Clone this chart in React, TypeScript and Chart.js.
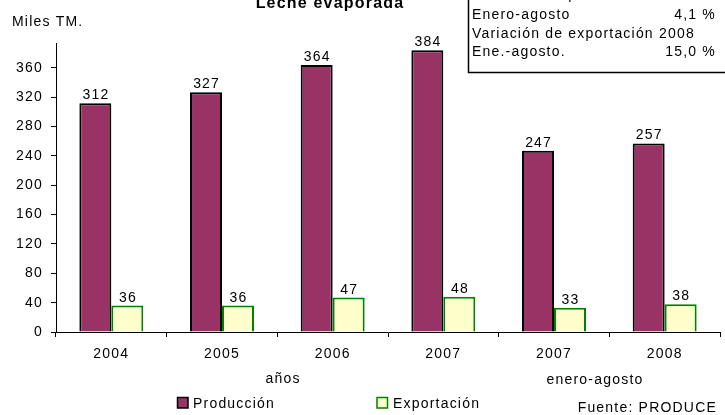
import React, { useEffect, useRef } from 'react';
import { Chart, registerables } from 'chart.js';

Chart.register(...registerables);

const categories = ['2004', '2005', '2006', '2007', '2007', '2008'];
const produccion = [312, 327, 364, 384, 247, 257];
const exportacion = [36, 36, 47, 48, 33, 38];
const yTickValues = [0, 40, 80, 120, 160, 200, 240, 280, 320, 360];
const yMax = 394;

const titleText = 'Leche evaporada';
const unitText = 'Miles TM.';
const xTitle = 'años';
const subTitle = 'enero-agosto';
const sourceText = 'Fuente: PRODUCE';
const boxLeft = ['Variación de producción 2008', 'Enero-agosto', 'Variación de exportación 2008', 'Ene.-agosto.'];
const boxRight = ['', '4,1 %', '', '15,0 %'];
const seriesNames = ['Producción', 'Exportación'];

const FONT = "'Liberation Sans', Arial, sans-serif";
const PURPLE = '#993366';
const CREAM = '#FFFFCC';
const GREEN = '#008000';

const overlay = {
  id: 'overlay',
  beforeDraw(chart: any) {
    chart.ctx.letterSpacing = '1.2px';
  },
  afterDraw(chart: any) {
    const ctx = chart.ctx as CanvasRenderingContext2D;
    ctx.save();
    (ctx as any).letterSpacing = '1.2px';
    ctx.fillStyle = '#000';
    ctx.textBaseline = 'alphabetic';

    // data labels
    ctx.font = `14px ${FONT}`;
    ctx.textAlign = 'center';
    chart.data.datasets.forEach((ds: any, i: number) => {
      const meta = chart.getDatasetMeta(i);
      meta.data.forEach((el: any, j: number) => {
        ctx.fillText(String(ds.data[j]), el.x + 0.6, el.y - 4);
      });
    });

    // title
    ctx.font = `bold 16px ${FONT}`;
    ctx.fillText(titleText, 330, 7.5);

    // unit
    ctx.font = `14px ${FONT}`;
    ctx.textAlign = 'left';
    ctx.fillText(unitText, 12, 25.5);

    // box
    ctx.fillStyle = '#fff';
    ctx.fillRect(468, -5, 270, 77.5);
    ctx.strokeStyle = '#000';
    ctx.lineWidth = 1.5;
    ctx.strokeRect(468.5, -5, 270, 77.5);
    ctx.fillStyle = '#000';
    const baselines = [-1.5, 19.3, 37.7, 56];
    boxLeft.forEach((t, i) => {
      ctx.textAlign = 'left';
      ctx.fillText(t, 472, baselines[i]);
      if (boxRight[i]) {
        ctx.textAlign = 'right';
        ctx.fillText(boxRight[i], 716, baselines[i]);
      }
    });

    // axis titles
    ctx.textAlign = 'center';
    ctx.fillText(xTitle, 283, 383);
    ctx.fillText(subTitle, 595, 384);

    // legend
    ctx.textAlign = 'left';
    ctx.lineWidth = 1.5;
    ctx.fillStyle = PURPLE;
    ctx.fillRect(177.5, 397.5, 10.5, 10.5);
    ctx.strokeStyle = '#000';
    ctx.strokeRect(177.5, 397.5, 10.5, 10.5);
    ctx.fillStyle = CREAM;
    ctx.fillRect(377, 397.5, 10.5, 10.5);
    ctx.strokeStyle = GREEN;
    ctx.strokeRect(377, 397.5, 10.5, 10.5);
    ctx.fillStyle = '#000';
    ctx.fillText(seriesNames[0], 193, 407.5);
    ctx.fillText(seriesNames[1], 393, 407.5);

    // source
    ctx.textAlign = 'right';
    ctx.fillText(sourceText, 717, 411.5);

    ctx.restore();
  },
};

export default function App() {
  const ref = useRef<HTMLCanvasElement>(null);
  useEffect(() => {
    document.body.style.margin = '0';
    const canvas = ref.current;
    if (!canvas) return;
    const chart = new Chart(canvas, {
      type: 'bar',
      data: {
        labels: categories,
        datasets: [
          {
            label: seriesNames[0],
            data: produccion,
            backgroundColor: PURPLE,
            borderColor: '#000',
            borderWidth: 2,
            categoryPercentage: 0.578,
            barPercentage: 1,
          },
          {
            label: seriesNames[1],
            data: exportacion,
            backgroundColor: CREAM,
            borderColor: GREEN,
            borderWidth: 2,
            categoryPercentage: 0.578,
            barPercentage: 1,
          },
        ],
      },
      options: {
        animation: false,
        responsive: false,
        devicePixelRatio: 1,
        layout: { padding: { top: 43, right: 5, left: 0, bottom: 0 } },
        plugins: {
          legend: { display: false },
          title: { display: false },
          tooltip: { enabled: false },
        },
        scales: {
          x: {
            grid: {
              display: true,
              drawOnChartArea: false,
              drawTicks: true,
              tickLength: 5,
              color: '#000',
              offset: true,
            },
            border: { display: true, color: '#000', width: 1 },
            ticks: {
              color: '#000',
              font: { family: FONT, size: 14 },
              padding: 9,
              maxRotation: 0,
            },
            afterFit: (scale: any) => {
              scale.height = 83;
            },
          },
          y: {
            min: 0,
            max: yMax,
            grid: {
              display: true,
              drawOnChartArea: false,
              drawTicks: true,
              tickLength: 5,
              color: '#000',
            },
            border: { display: true, color: '#000', width: 1 },
            ticks: {
              color: '#000',
              font: { family: FONT, size: 14 },
              padding: 8,
              stepSize: 40,
            },
            afterBuildTicks: (scale: any) => {
              scale.ticks = yTickValues.map((v) => ({ value: v }));
            },
            afterFit: (scale: any) => {
              scale.width = 56;
            },
          },
        },
      },
      plugins: [overlay],
    });
    return () => chart.destroy();
  }, []);
  return (
    <div style={{ width: 725, height: 415, position: 'relative' }}>
      <canvas ref={ref} width={725} height={415} style={{ display: 'block' }} />
    </div>
  );
}
